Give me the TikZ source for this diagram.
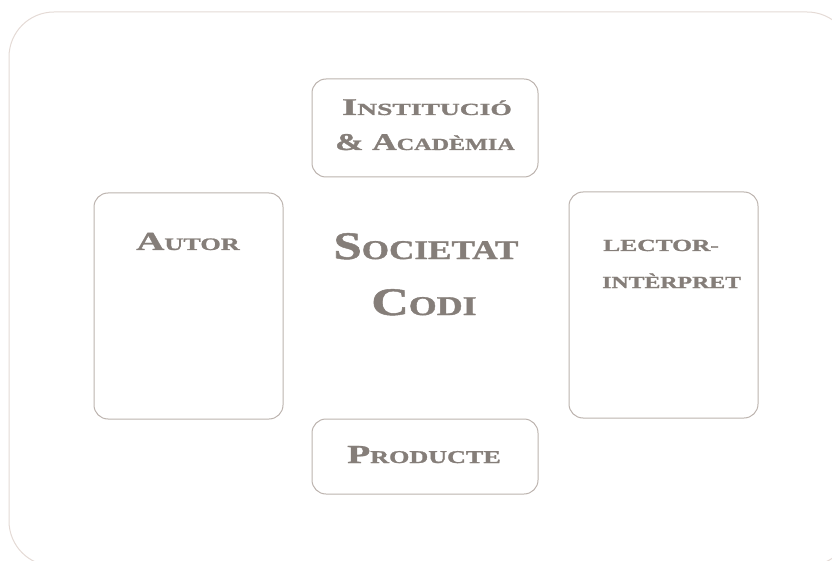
\documentclass[tikz,border=0pt]{standalone}
\usepackage{fontspec}
\usepackage{graphicx}
\setmainfont{Liberation Serif}[BoldFeatures={FakeBold=1.2}]
\definecolor{txt}{HTML}{857E79}
\definecolor{boxc}{HTML}{BCB3AE}
\definecolor{outc}{HTML}{E4DAD5}
\newcommand{\SC}[5]{\scalebox{#5}[1]{{\fontsize{#3}{#3}\selectfont #1}{\fontsize{#4}{#4}\selectfont #2}}}
\begin{document}
\begin{tikzpicture}[x=1pt,y=-1pt,
  card/.style={draw=boxc, line width=1pt, rounded corners=14pt},
  lbl/.style={text=txt, font=\bfseries, inner sep=0pt, anchor=base}]
\useasboundingbox (0,0) rectangle (832,561);
\draw[draw=outc, line width=1pt, rounded corners=45pt] (9,12) rectangle (852,566);
\draw[card] (312,79) rectangle (538,177);
\draw[card] (94,193) rectangle (283,419);
\draw[card] (569,192) rectangle (758,418);
\draw[card] (312,419) rectangle (538,494);
\node[lbl] (inst) at (427,115) {\SC{I}{NSTITUCIÓ}{24}{17}{1.62}};
\node[lbl] (acad) at (425,150) {\SC{\&~A}{CADÈMIA}{24}{17}{1.42}};
\node[lbl] (autor) at (188,250) {\SC{A}{UTOR}{26}{17.5}{1.5}};
\node[lbl, anchor=base west] (lect) at (603,251) {\SC{}{LECTOR-}{17}{17}{1.5}};
\node[lbl, anchor=base west] (inter) at (602,288) {\SC{}{INTÈRPRET}{17}{17}{1.4}};
\node[lbl] (soc) at (426,259) {\SC{S}{OCIETAT}{39}{27}{1.3}};
\node[lbl] (codi) at (424,315) {\SC{C}{ODI}{39}{27}{1.33}};
\node[lbl] (prod) at (424,463) {\SC{P}{RODUCTE}{26}{18}{1.45}};
\end{tikzpicture}
\end{document}
